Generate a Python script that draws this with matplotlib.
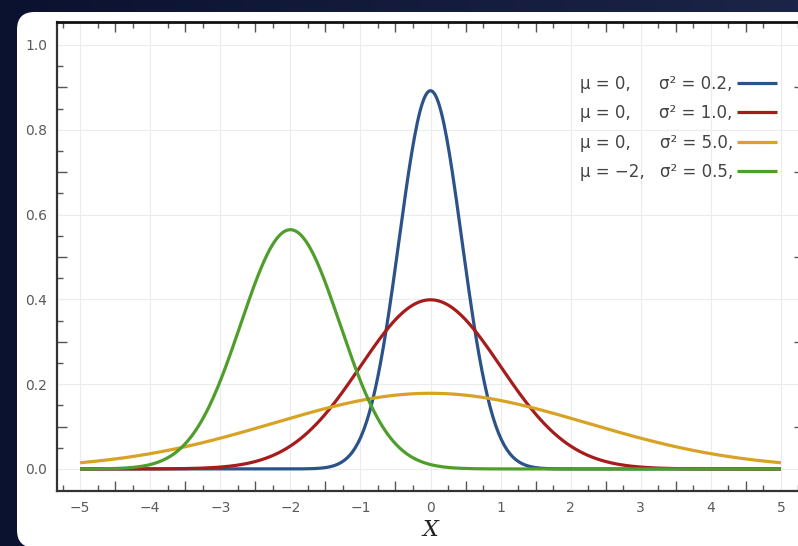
import numpy as np
import matplotlib
matplotlib.use("Agg")
import matplotlib.pyplot as plt
from matplotlib.patches import FancyBboxPatch

# parametres des lois normales (lus dans la legende)
moyennes = [0, 0, 0, -2]
variances = [0.2, 1.0, 5.0, 0.5]
couleurs = ["#2b5289", "#a61c1c", "#d8a225", "#4f9e2c"]
etiquettes_mu = ["\u03bc = 0,", "\u03bc = 0,", "\u03bc = 0,", "\u03bc = \u22122,"]
etiquettes_var = ["\u03c3\u00b2 = 0.2,", "\u03c3\u00b2 = 1.0,", "\u03c3\u00b2 = 5.0,", "\u03c3\u00b2 = 0.5,"]
x_ticks = [-5, -4, -3, -2, -1, 0, 1, 2, 3, 4, 5]
y_ticks = [0.0, 0.2, 0.4, 0.6, 0.8, 1.0]

plt.rcParams["font.family"] = ["DejaVu Sans"]

fig = plt.figure(figsize=(7.98, 5.46), dpi=100)
fig.patch.set_facecolor("#10173a")

# fond degrade + panneau blanc arrondi
fond = fig.add_axes([0, 0, 1, 1], zorder=-2)
degrade = np.linspace(0, 1, 256).reshape(1, -1)
fond.imshow(degrade, aspect="auto", extent=[0, 1, 0, 1],
            cmap=matplotlib.colors.LinearSegmentedColormap.from_list("f", ["#0b1230", "#1c2447"]))
fond.set_xlim(0, 1)
fond.set_ylim(0, 1)
fond.axis("off")
panneau = FancyBboxPatch((17 / 798, -0.003), 1.2, (546 - 12) / 546 + 0.003,
                         boxstyle="round,pad=0,rounding_size=0.022",
                         transform=fond.transAxes, facecolor="white", edgecolor="none",
                         mutation_aspect=798 / 546)
fond.add_patch(panneau)

ax = fig.add_axes([57 / 798, 1 - 491 / 546, 747 / 798, 469 / 546])
ax.set_facecolor("white")

xs = np.linspace(-5, 5, 500)
for mu, var, c, lab in zip(moyennes, variances, couleurs, etiquettes_var):
    ys = np.exp(-(xs - mu) ** 2 / (2 * var)) / np.sqrt(2 * np.pi * var)
    ax.plot(xs, ys, color=c, lw=2.3, label=lab, solid_capstyle="butt")

ax.set_xlim(-5.33, 5.33)
ax.set_ylim(-0.052, 1.054)

ax.set_xticks(x_ticks)
ax.set_xticklabels([str(v).replace("-", "\u2212") for v in x_ticks])
ax.set_yticks(y_ticks)
ax.set_yticklabels(["%.1f" % v for v in y_ticks])
ax.set_xticks([v for v in np.arange(-5.25, 5.3, 0.25) if abs(v - round(v)) > 1e-6], minor=True)
ax.set_yticks([v for v in np.arange(0.05, 1.04, 0.05) if abs(v * 5 - round(v * 5)) > 1e-6], minor=True)

ax.tick_params(which="major", length=0, labelsize=10, labelcolor="#5a5a5a", pad=7)
ax.tick_params(which="minor", direction="in", length=4, width=1, color="#555555",
               top=True, right=True)
ax.grid(True, which="major", color="#ececec", lw=0.8)
ax.set_axisbelow(True)

# ticks plus longs aux demi-unites
for tick, loc in zip(ax.xaxis.get_minor_ticks(), ax.xaxis.get_minorticklocs()):
    if abs(loc * 2 - round(loc * 2)) < 1e-6:
        tick.tick1line.set_markersize(7)
        tick.tick2line.set_markersize(7)
for tick, loc in zip(ax.yaxis.get_minor_ticks(), ax.yaxis.get_minorticklocs()):
    if abs(loc * 10 - round(loc * 10)) < 1e-6:
        tick.tick1line.set_markersize(7)
        tick.tick2line.set_markersize(7)

for cote in ["left", "bottom", "right"]:
    ax.spines[cote].set_color("#333333")
    ax.spines[cote].set_linewidth(1.6)
ax.spines["top"].set_color("#111111")
ax.spines["top"].set_linewidth(2)

ax.set_xlabel("X", fontsize=16, style="italic", family="DejaVu Serif", color="#222222",
              labelpad=3)

leg = ax.legend(loc="upper right", bbox_to_anchor=((777 - 57) / 747, (491 - 75) / 469),
                frameon=False, markerfirst=False, fontsize=12, handlelength=2.4,
                handletextpad=0.25, labelspacing=0.68, borderaxespad=0, borderpad=0)
for t in leg.get_texts():
    t.set_color("#444444")

# colonne des mu, alignee sur les lignes de la legende
fig.canvas.draw()
inv = ax.transAxes.inverted()
for t, lab in zip(leg.get_texts(), etiquettes_mu):
    bb = t.get_window_extent()
    _, yc = inv.transform((0, (bb.y0 + bb.y1) / 2))
    ax.text((580 - 57) / 747, yc, lab, transform=ax.transAxes, ha="left", va="center",
            fontsize=12, color="#444444")

fig.savefig("out.png", dpi=100, facecolor=fig.get_facecolor())
